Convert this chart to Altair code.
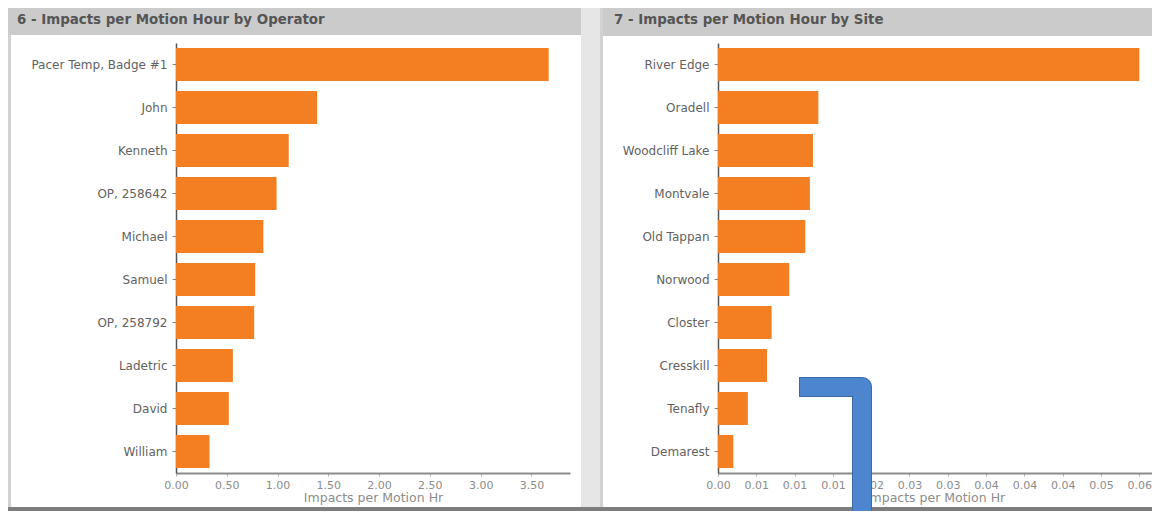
import altair as alt
import pandas as pd

# ---- data ----
operators = ["Pacer Temp, Badge #1", "John", "Kenneth", "OP, 258642", "Michael",
             "Samuel", "OP, 258792", "Ladetric", "David", "William"]
operator_rates = [3.67, 1.39, 1.11, 0.99, 0.86, 0.78, 0.77, 0.56, 0.52, 0.33]

sites = ["River Edge", "Oradell", "Woodcliff Lake", "Montvale", "Old Tappan",
         "Norwood", "Closter", "Cresskill", "Tenafly", "Demarest"]
site_rates = [0.0550, 0.0131, 0.0124, 0.0120, 0.0114, 0.0093, 0.0070, 0.0064, 0.0039, 0.0020]

operator_ticks = [0, 0.5, 1.0, 1.5, 2.0, 2.5, 3.0, 3.5]
site_ticks = [0, 0.005, 0.01, 0.015, 0.02, 0.025, 0.03, 0.035, 0.04, 0.045, 0.05, 0.055]

panel_titles = ["6 - Impacts per Motion Hour by Operator", "7 - Impacts per Motion Hour by Site"]
x_title = "Impacts per Motion Hr"

# ---- styles ----
ORANGE = "#f47f22"
HEADER = "#cbcbcb"
GAP = "#e6e6e6"
BORDER = "#d2d2d2"
BOTTOM = "#7d7d7d"
BLUE = "#4d86cf"
BLUE_EDGE = "#3a69a8"
FONT = "DejaVu Sans"

one = pd.DataFrame({"k": [0]})


def box(x, x2, y, y2, color, **kw):
    return alt.Chart(one).mark_rect(color=color, strokeWidth=0, **kw).encode(
        x=alt.value(x), x2=alt.value(x2), y=alt.value(y), y2=alt.value(y2)
    )


def header_text(title, x):
    return alt.Chart(one).mark_text(
        align="left", baseline="middle", font=FONT, fontWeight="bold",
        fontSize=13.4, color="#555555"
    ).encode(x=alt.value(x), y=alt.value(-23), text=alt.value(title))


def bars(cats, vals, field, ticks, xmax, width, height):
    df = pd.DataFrame({field: cats, "rate": vals})
    return alt.Chart(df).mark_bar(color=ORANGE).encode(
        x=alt.X(
            "rate:Q",
            scale=alt.Scale(domain=[0, xmax], nice=False, zero=True),
            axis=alt.Axis(
                values=ticks, format=".2f", title=x_title, grid=False,
                domainColor="#8c8c8c", domainWidth=2, tickColor="#b0b0b0", tickSize=3,
                labelColor="#8c8c8c", labelFont=FONT, labelFontSize=11, labelPadding=3,
                labelOverlap=False, labelFlush=False,
                titleFont=FONT, titleFontSize=12.5, titleColor="#8c8c8c",
                titleFontWeight="normal", titlePadding=1,
            ),
        ),
        y=alt.Y(
            f"{field}:N", sort=cats,
            scale=alt.Scale(paddingInner=0.23, paddingOuter=0.115),
            axis=alt.Axis(
                title=None, domainColor="#555555", domainWidth=1.5, tickColor="#888888",
                tickSize=4, labelColor="#626262", labelFont=FONT, labelFontSize=12,
                labelPadding=5, labelLimit=300,
            ),
        ),
    ).properties(width=width, height=height)


H = 430
W1 = 394      # left plot: page x 176 .. 570
W2 = 434      # right plot: page x 718 .. 1152
B = 468       # bottom of the panels, relative to the plot top
GAP_END = 424  # page x 600, relative to the left plot origin

left = alt.layer(
    box(405, GAP_END, -35, B, GAP),
    box(-168, -165, -8, B, BORDER),
    box(-168, 405, -35, -8, HEADER),
    box(-168, GAP_END, B - 4, B, BOTTOM),
    bars(operators, operator_rates, "operator", operator_ticks, 3.88, W1, H),
    header_text(panel_titles[0], -159),
).properties(width=W1, height=H)

right = alt.layer(
    box(-118, -115, -35, B, BORDER),
    box(-115, W2, -35, -7, HEADER),
    box(-118, W2, B - 4, B, BOTTOM),
    bars(sites, site_rates, "site", site_ticks, 0.05666, W2, H),
    header_text(panel_titles[1], -104),
    # blue elbow annotation
    box(81, 136, 334, 354, BLUE_EDGE),
    box(134, 154, 334, B, BLUE_EDGE, cornerRadiusTopRight=19),
    box(82, 144, 335, 353, BLUE),
    box(135, 153, 335, B, BLUE, cornerRadiusTopRight=18),
).properties(width=W2, height=H)

chart = alt.hconcat(left, right, spacing=0).configure(
    background="white", padding=0
).configure_view(stroke=None)

chart.save("out.html", embed_options={"renderer": "svg", "actions": False})
